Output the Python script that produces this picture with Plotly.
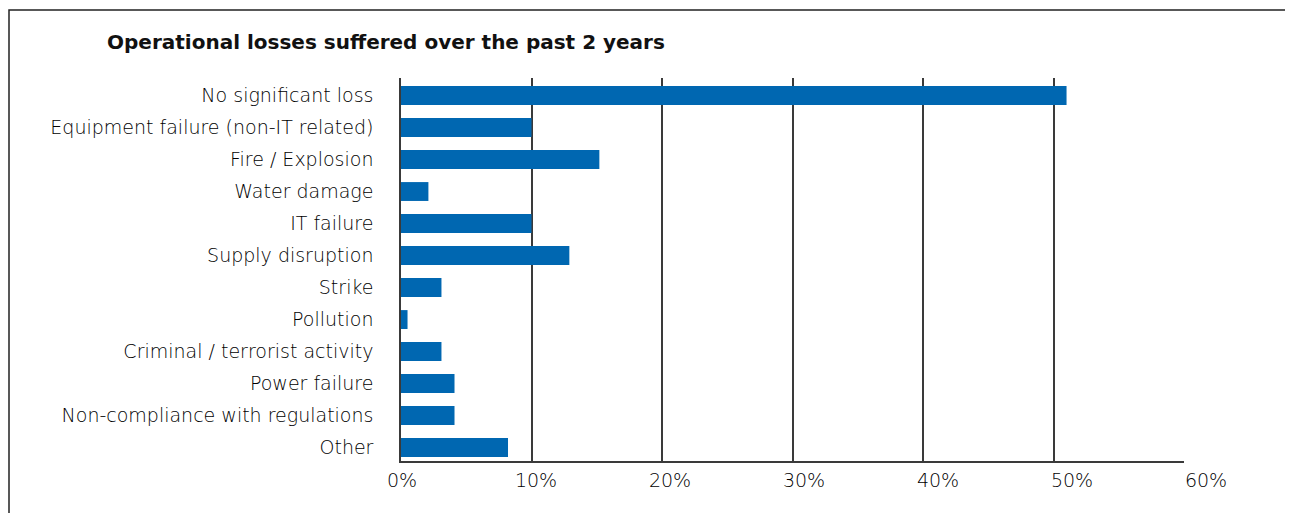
import plotly.graph_objects as go

categories = [
    "No significant loss",
    "Equipment failure (non-IT related)",
    "Fire / Explosion",
    "Water damage",
    "IT failure",
    "Supply disruption",
    "Strike",
    "Pollution",
    "Criminal / terrorist activity",
    "Power failure",
    "Non-compliance with regulations",
    "Other",
]
values = [51.0, 10.0, 15.2, 2.1, 10.0, 12.9, 3.1, 0.5, 3.1, 4.1, 4.1, 8.2]
tick_vals = [0, 10, 20, 30, 40, 50, 60]
tick_text = ["0%", "10%", "20%", "30%", "40%", "50%", "60%"]
title = "Operational losses suffered over the past 2 years"

OFF = 8  # page body margin
W, H = 1293 - OFF, 513 - OFF
L, R_px, T, B_px = 401 - OFF, 1240 - OFF, 78 - OFF, 461 - OFF
plot_w = R_px - L
plot_h = B_px - T
main_right = 1184 - OFF
main_frac = (main_right - L) / plot_w

# label axis scale (labels in the source are spaced slightly wider than the grid)
px_per = 804 / 60.0
r0 = -1 / px_per
r1 = r0 + plot_w / px_per

BLUE = "#0067b1"
LINE = "#3a3a3a"
FONT = "DejaVu Sans"
LBL = dict(family=FONT, size=19, color="#000", weight=300)

fig = go.Figure()
fig.add_trace(go.Bar(
    x=values, y=categories, orientation="h",
    marker=dict(color=BLUE, line=dict(width=0)),
    xaxis="x", yaxis="y", hoverinfo="x+y",
))
fig.add_trace(go.Scatter(
    x=[0], y=[categories[0]], mode="markers",
    marker=dict(opacity=0), xaxis="x2", yaxis="y",
    showlegend=False, hoverinfo="skip",
))

fig.update_layout(
    width=W, height=H,
    margin=dict(l=L, r=W - R_px, t=T, b=H - B_px, pad=0),
    paper_bgcolor="white", plot_bgcolor="rgba(0,0,0,0)",
    showlegend=False,
    bargap=0.41,
    font=LBL,
    xaxis=dict(
        domain=[0, main_frac], range=[0, 60], anchor="y",
        tickvals=tick_vals, showticklabels=False,
        showgrid=True, gridcolor=LINE, gridwidth=1.5,
        showline=True, linecolor=LINE, linewidth=1.5,
        zeroline=False, ticks="",
        fixedrange=True,
    ),
    xaxis2=dict(
        domain=[0, 1], range=[r0, r1], anchor="y", side="bottom",
        tickvals=tick_vals, ticktext=tick_text,
        showgrid=False, showline=False, zeroline=False, ticks="",
        tickfont=LBL, ticklabelstandoff=6,
        fixedrange=True,
    ),
    yaxis=dict(
        type="category", categoryorder="array", categoryarray=categories,
        range=[11.42, -0.547], anchor="x",
        showgrid=False, showline=True, linecolor=LINE, linewidth=1.5,
        zeroline=False, ticks="", ticklabelstandoff=22,
        tickfont=LBL,
        fixedrange=True,
    ),
    shapes=[dict(
        type="rect", xref="paper", yref="paper",
        x0=(9 - OFF - L) / plot_w, x1=(1289 - OFF - L) / plot_w,
        y0=(B_px - (530 - OFF)) / plot_h, y1=1 + (T - (10 - OFF)) / plot_h,
        line=dict(color="#222", width=1.5), fillcolor="rgba(0,0,0,0)", layer="below",
    )],
    annotations=[dict(
        text="<b>" + title + "</b>", xref="paper", yref="paper",
        x=(105 - OFF - L) / plot_w, y=1 + (T - (42 - OFF)) / plot_h,
        xanchor="left", yanchor="middle", showarrow=False,
        font=dict(family="DejaVu Sans", size=20, color="#111", weight=700),
    )],
)

fig.write_html("out.html")
